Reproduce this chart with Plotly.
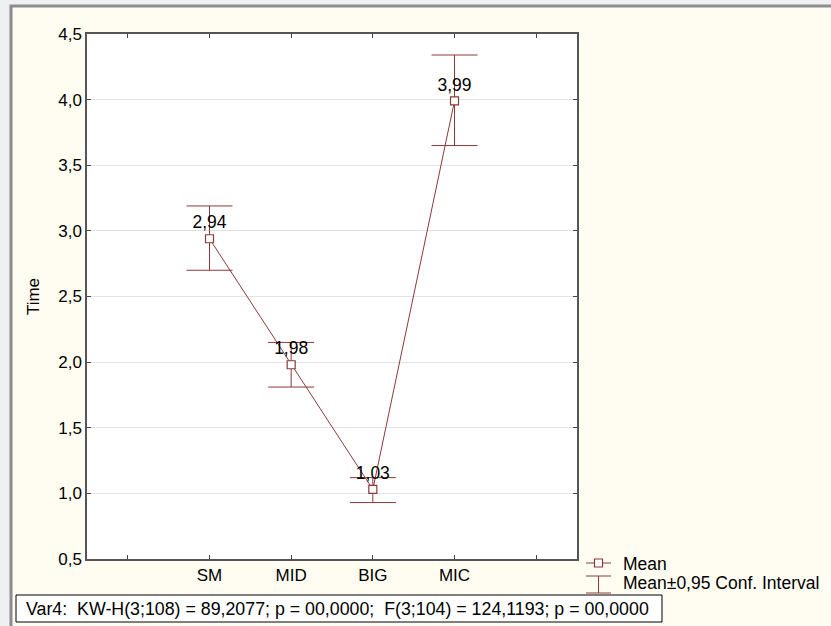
import plotly.graph_objects as go

categories = ["SM", "MID", "BIG", "MIC"]
means = [2.94, 1.98, 1.03, 3.99]
ci_upper = [3.19, 2.15, 1.12, 4.34]
ci_lower = [2.70, 1.81, 0.93, 3.65]
y_ticks = [0.5, 1.0, 1.5, 2.0, 2.5, 3.0, 3.5, 4.0, 4.5]
stats_text = "Var4:  KW-H(3;108) = 89,2077; p = 00,0000;  F(3;104) = 124,1193; p = 00,0000"
legend_mean = "Mean"
legend_ci = "Mean±0,95 Conf. Interval"

W, H = 831, 626
L, R, T, B = 87, 577, 34, 559
PW, PH = R - L, B - T

def px(x):
    return (x - L) / PW

def py(y):
    return (B - y) / PH

COL = "#8B3A3A"
FONT = "Liberation Sans, Arial, sans-serif"
FS = 17

xpos = list(range(1, len(categories) + 1))
err_plus = [u - m for u, m in zip(ci_upper, means)]
err_minus = [m - l for m, l in zip(means, ci_lower)]

fig = go.Figure()
fig.add_trace(go.Scatter(
    x=xpos, y=means, mode="lines+markers+text",
    line=dict(color=COL, width=1),
    marker=dict(symbol="square", size=8, color="white", line=dict(color=COL, width=1.2)),
    text=means, texttemplate="%{y:.2f}", textposition="top center",
    textfont=dict(family=FONT, size=17.5, color="black"),
    error_y=dict(type="data", symmetric=False, array=err_plus, arrayminus=err_minus,
                 color=COL, thickness=1, width=23),
    showlegend=False, cliponaxis=False, hoverinfo="skip",
))

tickvals = [0] + xpos + [len(categories) + 1]
ticktext = [""] + categories + [""]

shapes = []
shapes.append(dict(type="rect", xref="paper", yref="paper",
                   x0=px(11), x1=px(840), y0=py(6), y1=py(640),
                   fillcolor="#FFFDF1", line=dict(color="#8C8C8C", width=3), layer="below"))
shapes.append(dict(type="rect", xref="paper", yref="paper",
                   x0=0, x1=1, y0=0, y1=1, fillcolor="white",
                   line=dict(width=0), layer="below"))
gx0, gx1, gxc = px(586), px(611), px(598.5)
shapes.append(dict(type="line", xref="paper", yref="paper", x0=gx0, x1=gx1,
                   y0=py(563), y1=py(563), line=dict(color=COL, width=1)))
shapes.append(dict(type="rect", xref="paper", yref="paper", x0=px(594.5), x1=px(602.5),
                   y0=py(567), y1=py(559), fillcolor="white", line=dict(color=COL, width=1.2)))
shapes.append(dict(type="line", xref="paper", yref="paper", x0=gx0, x1=gx1,
                   y0=py(576), y1=py(576), line=dict(color=COL, width=1)))
shapes.append(dict(type="line", xref="paper", yref="paper", x0=gx0, x1=gx1,
                   y0=py(593), y1=py(593), line=dict(color=COL, width=1)))
shapes.append(dict(type="line", xref="paper", yref="paper", x0=gxc, x1=gxc,
                   y0=py(576), y1=py(593), line=dict(color=COL, width=1)))
shapes.append(dict(type="rect", xref="paper", yref="paper", x0=px(16), x1=px(662),
                   y0=py(595), y1=py(622), fillcolor="white", line=dict(color="black", width=1)))

annotations = [
    dict(text=legend_mean, xref="paper", yref="paper", x=px(621), y=py(564),
         xanchor="left", yanchor="middle", showarrow=False,
         font=dict(family=FONT, size=17.5, color="black")),
    dict(text=legend_ci, xref="paper", yref="paper", x=px(621), y=py(583),
         xanchor="left", yanchor="middle", showarrow=False,
         font=dict(family=FONT, size=17.5, color="black")),
    dict(text=stats_text, xref="paper", yref="paper", x=px(24), y=py(609),
         xanchor="left", yanchor="middle", showarrow=False,
         font=dict(family=FONT, size=17.8, color="black")),
]

fig.update_layout(
    width=W, height=H,
    margin=dict(l=L, r=W - R, t=T, b=H - B),
    paper_bgcolor="#EEF0F2", plot_bgcolor="rgba(0,0,0,0)",
    separators=",.",
    font=dict(family=FONT, size=FS, color="black"),
    shapes=shapes, annotations=annotations,
    hovermode=False,
    xaxis=dict(range=[-0.5, len(categories) + 1.5], tickvals=tickvals, ticktext=ticktext,
               ticks="inside", ticklen=4, tickcolor="#444", showgrid=False, zeroline=False,
               showline=True, linecolor="#555", linewidth=1.5, mirror="allticks",
               tickfont=dict(family=FONT, size=FS)),
    yaxis=dict(range=[0.5, 4.5], tickvals=y_ticks, tickformat=".1f",
               ticks="inside", ticklen=4, tickcolor="#444",
               showgrid=True, gridcolor="#E3E3E3", gridwidth=1, zeroline=False,
               showline=True, linecolor="#555", linewidth=1.5, mirror="allticks",
               tickfont=dict(family=FONT, size=FS),
               title=dict(text="Time", font=dict(family=FONT, size=FS), standoff=14)),
)

fig.write_html("out.html", config={"displayModeBar": False},
               post_script="document.body.style.margin='0';document.body.style.overflow='hidden';")
